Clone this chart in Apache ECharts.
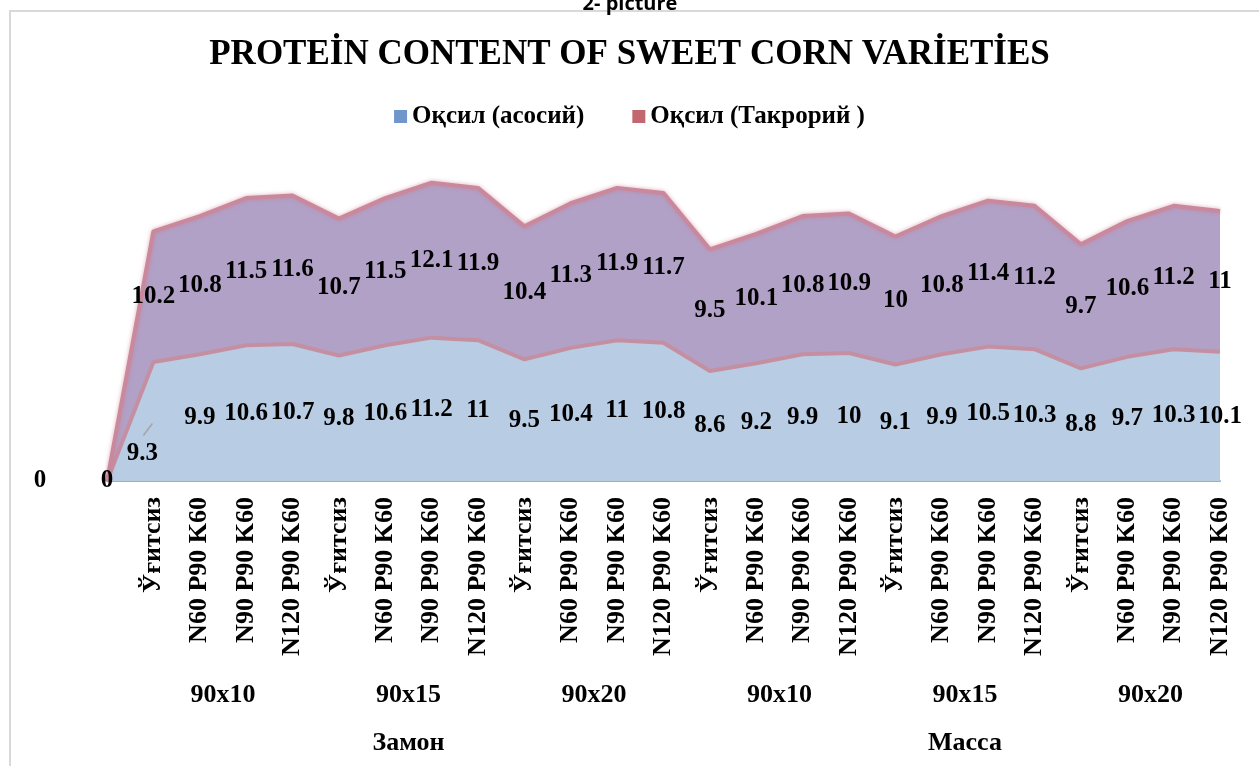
<!DOCTYPE html>
<html>
<head>
<meta charset="utf-8">
<script src="https://cdn.jsdelivr.net/npm/echarts@6/dist/echarts.min.js"></script>
<style>html,body{margin:0;padding:0;background:#fff;}#c{width:1259px;height:766px;}</style>
</head>
<body>
<div id="c"></div>
<script>
const categories = ['', 'Ўғитсиз','N60 P90 K60','N90 P90 K60','N120 P90 K60',
  'Ўғитсиз','N60 P90 K60','N90 P90 K60','N120 P90 K60',
  'Ўғитсиз','N60 P90 K60','N90 P90 K60','N120 P90 K60',
  'Ўғитсиз','N60 P90 K60','N90 P90 K60','N120 P90 K60',
  'Ўғитсиз','N60 P90 K60','N90 P90 K60','N120 P90 K60',
  'Ўғитсиз','N60 P90 K60','N90 P90 K60','N120 P90 K60'];
const asosiy = [0, 9.3, 9.9, 10.6, 10.7, 9.8, 10.6, 11.2, 11, 9.5, 10.4, 11, 10.8, 8.6, 9.2, 9.9, 10, 9.1, 9.9, 10.5, 10.3, 8.8, 9.7, 10.3, 10.1];
const takroriy = [0, 10.2, 10.8, 11.5, 11.6, 10.7, 11.5, 12.1, 11.9, 10.4, 11.3, 11.9, 11.7, 9.5, 10.1, 10.8, 10.9, 10, 10.8, 11.4, 11.2, 9.7, 10.6, 11.2, 11];
const seriesNames = ['Оқсил (асосий)', 'Оқсил (Такрорий )'];
const groups = ['90x10','90x15','90x20','90x10','90x15','90x20'];
const topGroups = ['Замон','Масса'];

const chart = echarts.init(document.getElementById('c'));
const serif = 'Liberation Serif';

const midA = asosiy.map(v => v / 2);
const midT = takroriy.map((v, i) => asosiy[i] + v / 2);

const labelFont = {fontFamily: serif, fontWeight: 'bold', fontSize: 25, color: '#000'};

function labelSeries(data, src, shifts) {
  return {
    type: 'line', data: data, symbol: 'circle', symbolSize: 1, showSymbol: true, silent: true,
    itemStyle: {color: 'rgba(0,0,0,0)'},
    lineStyle: {opacity: 0}, tooltip: {show: false},
    label: Object.assign({show: true, position: 'inside', formatter: p => String(src[p.dataIndex])}, labelFont),
    labelLayout: p => (shifts[p.dataIndex] ? {dx: shifts[p.dataIndex][0], dy: shifts[p.dataIndex][1], hideOverlap: false} : {hideOverlap: false}),
    z: 5
  };
}

chart.setOption({
  animation: false,
  backgroundColor: '#fff',
  title: {
    text: 'PROTEİN CONTENT OF SWEET CORN VARİETİES',
    left: 'center', top: 32,
    textStyle: {fontFamily: serif, fontWeight: 'bold', fontSize: 35, color: '#000'}
  },
  legend: {
    data: seriesNames, top: 99, left: 'center',
    itemWidth: 13, itemHeight: 13, itemGap: 48, icon: 'rect',
    textStyle: {fontFamily: serif, fontWeight: 'bold', fontSize: 25, color: '#000'}
  },
  grid: {left: 107, right: 39, top: 161, bottom: 285, containLabel: false},
  xAxis: {
    type: 'category', data: categories, boundaryGap: false,
    axisLine: {show: true, lineStyle: {color: '#8eaedb', width: 2}},
    axisTick: {show: false},
    axisLabel: {rotate: 90, margin: 16, interval: 0, fontFamily: serif, fontWeight: 'bold', fontSize: 26, color: '#000'}
  },
  yAxis: {type: 'value', min: 0, max: 25, show: false, splitLine: {show: false}},
  series: [
    {
      name: seriesNames[0], type: 'line', stack: 'p', data: asosiy, symbol: 'none',
      itemStyle: {color: '#7096cb'},
      lineStyle: {color: '#c58fa2', width: 4},
      areaStyle: {color: '#b8cce4', opacity: 1}
    },
    {
      name: seriesNames[1], type: 'line', stack: 'p', data: takroriy, symbol: 'none',
      itemStyle: {color: '#c2666f'},
      lineStyle: {color: '#c9889b', width: 4, shadowBlur: 4, shadowColor: 'rgba(200,120,140,0.6)'},
      areaStyle: {color: '#b2a1c7', opacity: 1}
    },
    labelSeries(midA, asosiy, {1: [-11, 32]}),
    labelSeries(midT, takroriy, {0: [-67, 0]})
  ]
});

const px = i => chart.convertToPixel({xAxisIndex: 0}, i);
const yp = v => chart.convertToPixel({yAxisIndex: 0}, v);
const graphics = [
  {type: 'rect', shape: {x: 10, y: 11, width: 1400, height: 900}, style: {fill: 'none', stroke: '#d9d9d9', lineWidth: 2}, silent: true, z: -1},
  {type: 'text', x: 630, y: -6, style: {text: '2- picture', fontFamily: 'Open Sans', fontWeight: 'bold', fontSize: 20, fill: '#000', align: 'center'}},
  {type: 'line', shape: {x1: px(1) - 10, y1: yp(asosiy[1] / 2) + 14, x2: px(1) - 1, y2: yp(asosiy[1] / 2) + 2}, style: {stroke: '#a6a6a6', lineWidth: 1.5}, z: 10}
];
groups.forEach((g, k) => {
  const cx = (px(1 + k * 4 + 1) + px(1 + k * 4 + 2)) / 2;
  graphics.push({type: 'text', x: cx, y: 695, style: {text: g, fontFamily: serif, fontWeight: 'bold', fontSize: 26, fill: '#000', align: 'center', verticalAlign: 'middle'}});
});
topGroups.forEach((g, k) => {
  const cx = (px(1 + k * 12 + 5) + px(1 + k * 12 + 6)) / 2;
  graphics.push({type: 'text', x: cx, y: 743, style: {text: g, fontFamily: serif, fontWeight: 'bold', fontSize: 26, fill: '#000', align: 'center', verticalAlign: 'middle'}});
});
chart.setOption({graphic: graphics});
</script>
</body>
</html>
